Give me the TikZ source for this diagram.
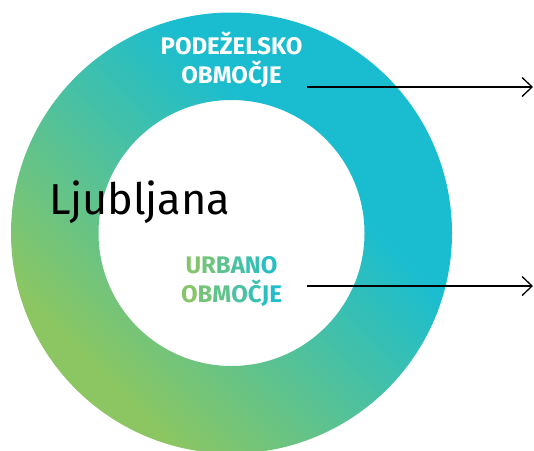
\documentclass[tikz,border=0pt]{standalone}
\usepackage{fontspec}
\setmainfont{Fira Sans}
\usetikzlibrary{arrows.meta}
\definecolor{ljgreen}{RGB}{140, 198, 98}
\definecolor{ljcyan}{RGB}{26, 189, 208}
\pgfdeclarehorizontalshading{ringshade}{100bp}{color(0bp)=(ljgreen); color(28bp)=(ljgreen); color(62bp)=(ljcyan); color(100bp)=(ljcyan)}
\newcommand{\ramp}[2]{\textcolor{ljcyan!#1!ljgreen}{#2}}
\tikzset{zonelabel/.style = {font=\bfseries\fontsize{24}{29}\selectfont, align=center, inner sep=0pt},
         pointer/.style = {-{Straight Barb[length=10pt, width=19pt, line width=1.3pt]}, line width=1.3pt}}

\begin{document}
\begin{tikzpicture}[x=1pt, y=-1pt]
    \useasboundingbox (0, 0) rectangle (534, 450);
    \coordinate (ctr) at (231.5, 233);
    \shade [shading=ringshade, shading angle=45, even odd rule] (ctr) circle [radius=220.5] (ctr) circle [radius=133];

    \node [anchor=base west, inner sep=0pt, font=\fontsize{43.3}{45}\selectfont] (city) at (49, 214) {Ljubljana};
    % base anchor sits on the last line
    \node [zonelabel, white, anchor=base] (rural) at (231.5, 83) {PODEŽELSKO\\OBMOČJE};
    \node [zonelabel, anchor=base] (urban) at (231.5, 302) {\ramp{8}{U}\ramp{24}{R}\ramp{40}{B}\ramp{57}{A}\ramp{73}{N}\ramp{88}{O}\\
        \ramp{5}{O}\ramp{21}{B}\ramp{38}{M}\ramp{57}{O}\ramp{72}{Č}\ramp{85}{J}\ramp{95}{E}};

    \coordinate (ruralend) at (533, 87);
    \coordinate (urbanend) at (533, 286);
    \draw [pointer] (307, 87) -- (ruralend);
    \draw [pointer] (307, 286) -- (urbanend);
\end{tikzpicture}
\end{document}
